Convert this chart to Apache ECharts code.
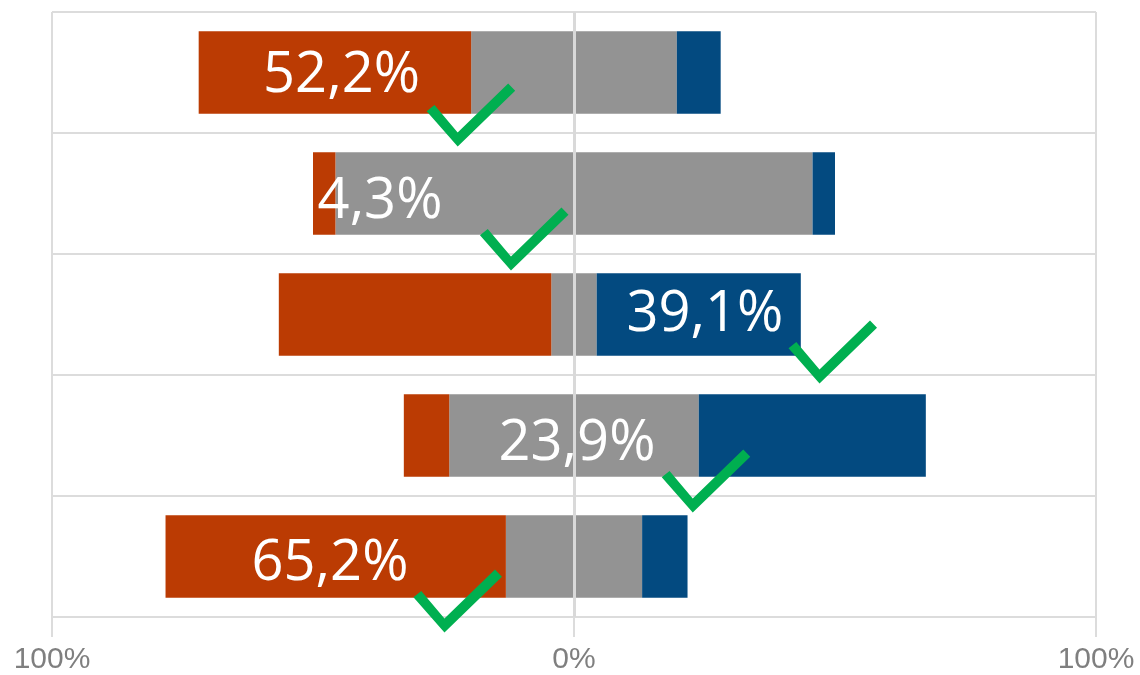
<!DOCTYPE html>
<html>
<head>
<meta charset="utf-8">
<script src="https://cdn.jsdelivr.net/npm/echarts@6/dist/echarts.min.js"></script>
<style>
html,body{margin:0;padding:0;background:#fff;}
#chart{width:1140px;height:675px;}
</style>
</head>
<body>
<div id="chart"></div>
<script>
// ---- data ----
const categories = ['Item 1', 'Item 2', 'Item 3', 'Item 4', 'Item 5'];
const negative = [52.2, 4.3, 52.2, 8.7, 65.2];   // orange
const neutral  = [39.4, 91.4, 8.7, 47.8, 26.1];  // gray (split around 0)
const positive = [8.4, 4.3, 39.1, 43.5, 8.7];    // blue
const answerLabels  = ['52,2%', '4,3%', '39,1%', '23,9%', '65,2%'];
const answerSegment = ['neg', 'neg', 'pos', 'neu', 'neg'];
const xTicks = [-100, 0, 100];

// ---- styles / positions of annotations (pixels) ----
const labelOffsets = [[6.6, 3.5], [55.8, 8.5], [6.2, 0.5], [3, 9], [-5.7, 8]];
const checkOffsets = [[136, 42.5], [200, 45.5], [134, 37.5], [132, 45.5], [122, 44.5]];
const C_NEG = '#BB3B03', C_NEU = '#939393', C_POS = '#034A80', C_CHECK = '#00AF50';
const GRID_C = '#dcdcdc';
const NONE = 'rgba(0,0,0,0)';

const chart = echarts.init(document.getElementById('chart'), null, {renderer: 'canvas'});

function anchorX(i) {
  const s = answerSegment[i];
  if (s === 'neg') return -(neutral[i] / 2 + negative[i] / 2);
  if (s === 'pos') return neutral[i] / 2 + positive[i] / 2;
  return 0;
}

const checkPath = 'path://M0,28 L31,63 L88.5,7.6 L81.5,0.4 L31,49 L7.8,21.7 Z';

const option = {
  animation: false,
  backgroundColor: '#ffffff',
  grid: {left: 52, right: 44, top: 12, bottom: 58, containLabel: false, outerBoundsMode: 'none'},
  xAxis: [{
    type: 'value', min: -100, max: 100, interval: 100,
    axisLine: {show: false},
    axisTick: {show: true, length: 20, lineStyle: {color: GRID_C, width: 2}},
    axisLabel: {
      show: true, margin: 28, color: '#7f7f7f', fontSize: 30,
      fontFamily: 'Liberation Sans, Arial, sans-serif',
      formatter: v => xTicks.indexOf(v) >= 0 ? Math.abs(v) + '%' : ''
    },
    splitLine: {show: true, lineStyle: {color: GRID_C, width: 2}}
  }, {
    // overlay axis: only the zero line, drawn above the bars
    type: 'value', min: -100, max: 100, interval: 100, z: 4,
    position: 'bottom',
    axisLine: {show: false}, axisTick: {show: false}, axisLabel: {show: false},
    splitLine: {show: true, lineStyle: {color: [NONE, '#d9d9d9', NONE], width: 3}}
  }],
  yAxis: {
    type: 'category', data: categories, inverse: true,
    axisLine: {show: false},
    axisTick: {show: true, length: 20, lineStyle: {color: GRID_C, width: 2}},
    axisLabel: {show: false},
    splitLine: {show: true, lineStyle: {color: GRID_C, width: 2}}
  },
  series: [
    {name: 'neuL', type: 'bar', stack: 'a', barCategoryGap: '32%',
     itemStyle: {color: C_NEU}, data: neutral.map(v => -v / 2)},
    {name: 'neg', type: 'bar', stack: 'a', barCategoryGap: '32%',
     itemStyle: {color: C_NEG}, data: negative.map(v => -v)},
    {name: 'neuR', type: 'bar', stack: 'a', barCategoryGap: '32%',
     itemStyle: {color: C_NEU}, data: neutral.map(v => v / 2)},
    {name: 'pos', type: 'bar', stack: 'a', barCategoryGap: '32%',
     itemStyle: {color: C_POS}, data: positive},
    {name: 'labels', type: 'scatter', z: 6, silent: true,
     symbolSize: 1, itemStyle: {color: NONE, opacity: 1},
     data: categories.map((c, i) => ({
       value: [anchorX(i), i],
       label: {show: true, position: 'inside', offset: labelOffsets[i],
         formatter: answerLabels[i], color: '#ffffff', opacity: 1, fontSize: 56,
         fontFamily: 'Open Sans, sans-serif'}
     }))},
    {name: 'checks', type: 'scatter', z: 7, silent: true,
     symbol: checkPath, symbolSize: [88.5, 63],
     itemStyle: {color: C_CHECK, opacity: 1},
     data: categories.map((c, i) => ({
       value: [anchorX(i), i],
       symbolOffset: checkOffsets[i]
     }))}
  ]
};
chart.setOption(option);
</script>
</body>
</html>
